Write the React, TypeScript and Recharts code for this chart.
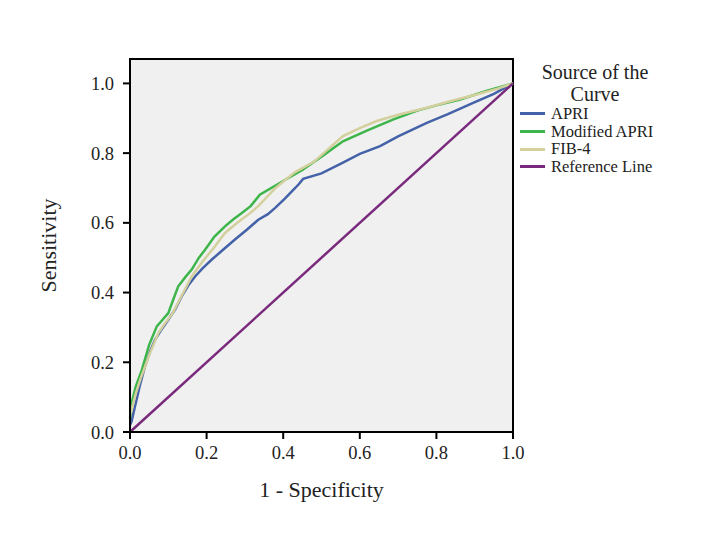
import React from "react";
import { LineChart, Line, XAxis, YAxis, ReferenceArea } from "recharts";

// ROC points: [1 - specificity, sensitivity]
const apriFpr = [0, 0.004, 0.013, 0.025, 0.039, 0.052, 0.065, 0.08, 0.1, 0.118, 0.135, 0.152, 0.17, 0.19, 0.213, 0.24, 0.274, 0.305, 0.335, 0.36, 0.379, 0.405, 0.427, 0.44, 0.452, 0.5, 0.556, 0.6, 0.653, 0.7, 0.775, 0.83, 0.896, 0.95, 1];
const apriTpr = [0.02, 0.03, 0.073, 0.13, 0.188, 0.23, 0.264, 0.29, 0.322, 0.352, 0.389, 0.42, 0.446, 0.47, 0.494, 0.52, 0.552, 0.58, 0.609, 0.625, 0.643, 0.67, 0.695, 0.71, 0.726, 0.742, 0.773, 0.798, 0.82, 0.848, 0.887, 0.912, 0.944, 0.97, 1];

const modFpr = [0, 0.004, 0.015, 0.031, 0.05, 0.07, 0.085, 0.1, 0.113, 0.126, 0.145, 0.161, 0.18, 0.196, 0.22, 0.248, 0.27, 0.292, 0.315, 0.339, 0.4, 0.45, 0.5, 0.556, 0.62, 0.688, 0.75, 0.8, 0.862, 0.93, 1];
const modTpr = [0.04, 0.082, 0.13, 0.178, 0.25, 0.303, 0.322, 0.341, 0.38, 0.418, 0.445, 0.466, 0.5, 0.523, 0.56, 0.59, 0.61, 0.628, 0.648, 0.681, 0.72, 0.752, 0.79, 0.834, 0.865, 0.897, 0.922, 0.937, 0.954, 0.978, 1];

const fibFpr = [0, 0.004, 0.015, 0.03, 0.05, 0.074, 0.09, 0.11, 0.13, 0.161, 0.19, 0.22, 0.248, 0.28, 0.31, 0.335, 0.38, 0.43, 0.48, 0.556, 0.6, 0.644, 0.7, 0.775, 0.84, 0.905, 0.96, 1];
const fibTpr = [0.05, 0.063, 0.11, 0.16, 0.22, 0.284, 0.31, 0.338, 0.38, 0.446, 0.49, 0.53, 0.571, 0.6, 0.625, 0.648, 0.7, 0.745, 0.775, 0.849, 0.872, 0.892, 0.91, 0.93, 0.95, 0.968, 0.985, 1];

const refFpr = [0, 1];
const refTpr = [0, 1];

const ticks = [0, 0.2, 0.4, 0.6, 0.8, 1.0];

const toPoints = (xs: number[], ys: number[]) => xs.map((x, i) => ({ x, y: ys[i] }));

const series = [
  { name: "APRI", color: "#4462a8", data: toPoints(apriFpr, apriTpr) },
  { name: "Modified APRI", color: "#3db54a", data: toPoints(modFpr, modTpr) },
  { name: "FIB-4", color: "#d4d09e", data: toPoints(fibFpr, fibTpr) },
  { name: "Reference Line", color: "#7a2a7c", data: toPoints(refFpr, refTpr) },
];

const FONT = "'Liberation Serif', serif";

export default function App() {
  return (
    <div style={{ position: "absolute", left: 0, top: 0, width: 712, height: 536, background: "#fff", fontFamily: FONT }}>
      <style>{`body{margin:0}`}</style>
      <LineChart width={712} height={536} margin={{ top: 59, right: 199, bottom: 64, left: 90 }}>
        <ReferenceArea x1={0} x2={1} y1={0} y2={1.07} fill="#f0f0f0" fillOpacity={1} stroke="#000" strokeWidth={2} ifOverflow="visible" />
        <XAxis
          type="number"
          dataKey="x"
          domain={[0, 1]}
          ticks={ticks}
          tickFormatter={(v: number) => v.toFixed(1)}
          stroke="#000"
          strokeWidth={2}
          tickSize={7}
          tickMargin={7}
          height={40}
          tick={{ fill: "#222", fontSize: 18.5, fontFamily: FONT }}
          label={{ value: "1 - Specificity", position: "insideBottom", offset: -25, fill: "#222", fontSize: 22, fontFamily: FONT }}
        />
        <YAxis
          type="number"
          dataKey="y"
          domain={[0, 1.07]}
          ticks={ticks}
          tickFormatter={(v: number) => v.toFixed(1)}
          stroke="#000"
          strokeWidth={2}
          tickSize={7}
          tickMargin={9}
          width={40}
          tick={{ fill: "#222", fontSize: 18.5, fontFamily: FONT }}
          label={{ value: "Sensitivity", angle: -90, position: "insideLeft", offset: -42, fill: "#222", fontSize: 22, fontFamily: FONT, style: { textAnchor: "middle" } }}
        />
        {series.map((s) => (
          <Line
            key={s.name}
            data={s.data}
            dataKey="y"
            type="linear"
            stroke={s.color}
            strokeWidth={2.5}
            dot={false}
            isAnimationActive={false}
          />
        ))}
      </LineChart>
      <div style={{ position: "absolute", left: 520, top: 61, width: 150, color: "#222" }}>
        <div style={{ textAlign: "center", fontSize: 20, lineHeight: "22px" }}>
          Source of the
          <br />
          Curve
        </div>
        {series.map((s) => (
          <div key={s.name} style={{ display: "flex", alignItems: "center", fontSize: 16.5, lineHeight: "17.7px" }}>
            <span style={{ display: "inline-block", width: 25, height: 3, background: s.color, marginRight: 6 }} />
            {s.name}
          </div>
        ))}
      </div>
    </div>
  );
}
